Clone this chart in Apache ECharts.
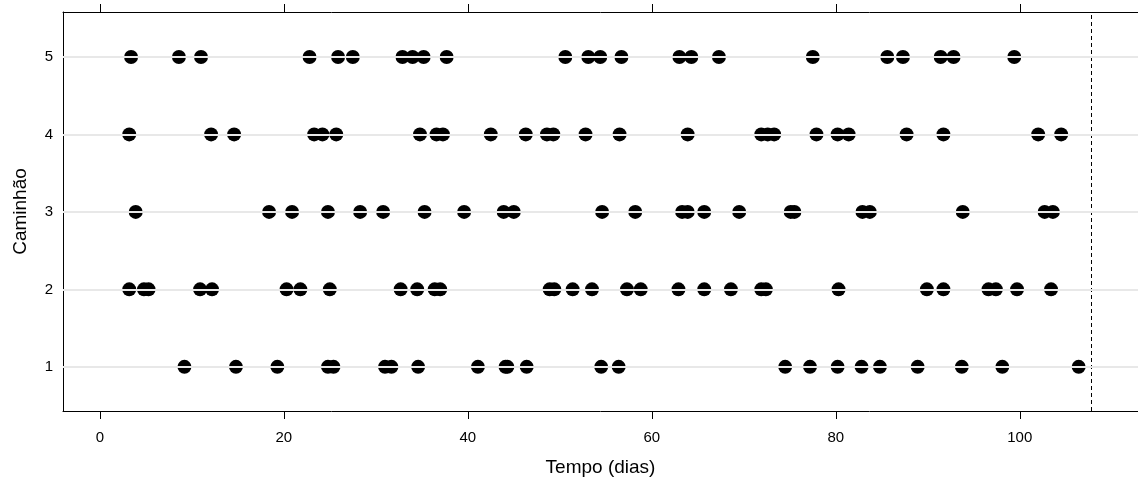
<!DOCTYPE html>
<html>
<head>
<meta charset="utf-8">
<script src="https://cdn.jsdelivr.net/npm/echarts@6/dist/echarts.min.js"></script>
<style>
  html, body { margin: 0; padding: 0; background: #fff; }
  #chart { width: 1138px; height: 484px; }
</style>
</head>
<body>
<div id="chart"></div>
<script>
// tempos de chegada (dias) por caminhão
var row1 = [9.2, 14.8, 19.3, 24.8, 25.4, 31.0, 31.7, 34.6, 41.1, 44.1, 44.3, 46.4, 54.5, 56.4, 74.5, 77.2, 80.2, 82.8, 84.8, 88.9, 93.7, 98.1, 106.4];
var row2 = [3.2, 4.8, 5.3, 10.9, 12.2, 20.3, 21.8, 25.0, 32.7, 34.5, 36.4, 37.0, 48.9, 49.4, 51.4, 53.5, 57.3, 58.8, 62.9, 65.7, 68.6, 71.9, 72.4, 80.3, 89.9, 91.7, 96.6, 97.4, 99.7, 103.4];
var row3 = [3.9, 18.4, 20.9, 24.8, 28.3, 30.8, 35.3, 39.6, 43.9, 45.0, 54.6, 58.2, 63.3, 63.9, 65.7, 69.5, 75.1, 75.5, 82.9, 83.7, 93.8, 102.7, 103.6];
var row4 = [3.2, 12.1, 14.6, 23.3, 24.2, 25.7, 34.8, 36.6, 37.3, 42.5, 46.3, 48.6, 49.3, 52.8, 56.5, 63.9, 71.9, 72.6, 73.3, 77.9, 80.2, 81.4, 87.7, 91.7, 102.0, 104.5];
var row5 = [3.4, 8.6, 11.0, 22.8, 25.9, 27.5, 32.9, 34.0, 35.2, 37.7, 50.6, 53.1, 54.4, 56.7, 63.0, 64.3, 67.3, 77.5, 85.6, 87.3, 91.4, 92.8, 99.4];
var rows = [row1, row2, row3, row4, row5];
var xTicks = [0, 20, 40, 60, 80, 100];
var yTicks = [1, 2, 3, 4, 5];
var endTime = 107.8;

var points = [];
rows.forEach(function (r, i) {
  r.forEach(function (t) { points.push([t, i + 1]); });
});

var font = "Liberation Sans, Arial, sans-serif";
var chart = echarts.init(document.getElementById("chart"));
chart.setOption({
  animation: false,
  grid: { left: 63, right: 0, top: 12, bottom: 73 },
  xAxis: [
    {
      type: "value",
      min: -4, max: 112.85,
      name: "Tempo (dias)",
      nameLocation: "middle",
      nameGap: 47,
      nameTextStyle: { fontFamily: font, fontSize: 19, color: "#000" },
      axisLine: { show: true, onZero: false, lineStyle: { color: "#000", width: 1 } },
      axisTick: { show: true, length: 8, customValues: xTicks, lineStyle: { color: "#000" } },
      axisLabel: { customValues: xTicks, margin: 19, fontFamily: font, fontSize: 15, color: "#000" },
      splitLine: { show: false }
    },
    {
      type: "value",
      position: "top",
      min: -4, max: 112.85,
      axisLine: { show: true, onZero: false, lineStyle: { color: "#000", width: 1 } },
      axisTick: { show: true, length: 8, customValues: xTicks, lineStyle: { color: "#000" } },
      axisLabel: { show: false },
      splitLine: { show: false }
    }
  ],
  yAxis: {
    type: "value",
    min: 0.43, max: 5.58,
    name: "Caminhão",
    nameLocation: "middle",
    nameGap: 33,
    nameTextStyle: { fontFamily: font, fontSize: 19, color: "#000" },
    axisLine: { show: true, onZero: false, lineStyle: { color: "#000", width: 1 } },
    axisTick: { show: false, customValues: yTicks },
    axisLabel: { customValues: yTicks, margin: 10, fontFamily: font, fontSize: 15, color: "#000" },
    splitLine: { show: false }
  },
  series: [
    {
      type: "scatter",
      xAxisIndex: 0,
      data: points,
      symbol: "circle",
      symbolSize: 14,
      itemStyle: { color: "#000", opacity: 1 },
      z: 3,
      markLine: {
        silent: true,
        symbol: ["none", "none"],
        label: { show: false },
        lineStyle: { color: "#000", type: [4, 3], width: 1 },
        data: [{ xAxis: endTime }]
      }
    },
    {
      // linhas de referência horizontais
      type: "scatter",
      data: [],
      markLine: {
        silent: true,
        symbol: ["none", "none"],
        label: { show: false },
        lineStyle: { color: "#e8e8e8", type: "solid", width: 2 },
        data: yTicks.map(function (v) { return { yAxis: v }; })
      },
      z: 1
    }
  ]
});
window.addEventListener("resize", function () {
  chart.resize();
});
</script>
</body>
</html>
